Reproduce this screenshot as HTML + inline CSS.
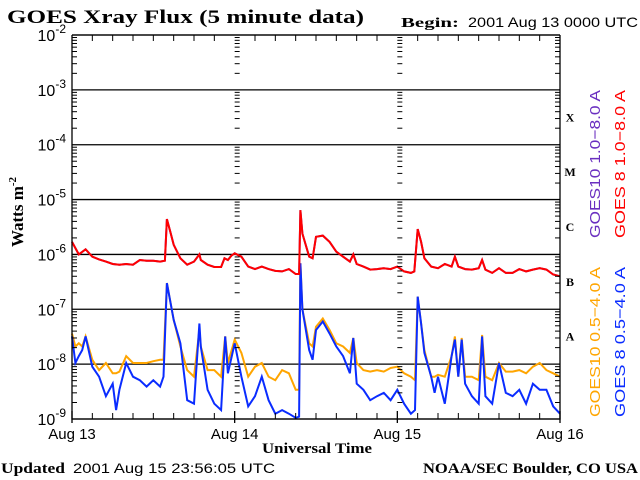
<!DOCTYPE html>
<html><head><meta charset="utf-8"><style>
html,body{margin:0;padding:0;background:#fff;width:640px;height:480px;overflow:hidden}
svg{display:block}
.serif{font-family:"Liberation Serif",serif;font-weight:bold}
.sans{font-family:"Liberation Sans",sans-serif;font-weight:normal}
</style></head><body>
<svg id="chart" width="640" height="480" viewBox="0 0 640 480" xmlns="http://www.w3.org/2000/svg">
<text class="serif" x="7" y="23" font-size="19" textLength="357" lengthAdjust="spacingAndGlyphs">GOES Xray Flux (5 minute data)</text>
<text class="serif" x="401" y="27" font-size="14" textLength="58" lengthAdjust="spacingAndGlyphs">Begin:</text>
<text style="font-family:'Liberation Sans',sans-serif" x="468" y="27" font-size="14" textLength="170" lengthAdjust="spacingAndGlyphs">2001 Aug 13 0000 UTC</text>
<text class="serif" font-size="17" transform="translate(23,212) rotate(-90)" text-anchor="middle">Watts m<tspan dy="-7" font-size="11">-2</tspan></text>
<text class="serif" x="262" y="453" font-size="15" textLength="110" lengthAdjust="spacingAndGlyphs">Universal Time</text>
<text class="serif" x="1" y="473" font-size="15" textLength="64" lengthAdjust="spacingAndGlyphs">Updated</text>
<text style="font-family:'Liberation Sans',sans-serif" x="73" y="473" font-size="14" textLength="202" lengthAdjust="spacingAndGlyphs">2001 Aug 15 23:56:05 UTC</text>
<text class="serif" x="423" y="473" font-size="15" textLength="215" lengthAdjust="spacingAndGlyphs">NOAA/SEC Boulder, CO USA</text>
<g id="grid"></g><g id="series"></g><g id="axes"></g><g id="labels"></g>
<text style="font-family:'Liberation Sans',sans-serif" fill="#6a2fc0" font-size="15" transform="translate(600,164) rotate(-90)" text-anchor="middle" textLength="148" lengthAdjust="spacingAndGlyphs">GOES10 1.0−8.0 A</text>
<text style="font-family:'Liberation Sans',sans-serif" fill="#ff0000" font-size="15" transform="translate(625,164) rotate(-90)" text-anchor="middle" textLength="148" lengthAdjust="spacingAndGlyphs">GOES 8 1.0−8.0 A</text>
<text style="font-family:'Liberation Sans',sans-serif" fill="#ffa500" font-size="15" transform="translate(600,342) rotate(-90)" text-anchor="middle" textLength="150" lengthAdjust="spacingAndGlyphs">GOES10 0.5−4.0 A</text>
<text style="font-family:'Liberation Sans',sans-serif" fill="#0a2cff" font-size="15" transform="translate(625,342) rotate(-90)" text-anchor="middle" textLength="150" lengthAdjust="spacingAndGlyphs">GOES 8 0.5−4.0 A</text>
</svg>
<script>
const dayLabels = ["Aug 13","Aug 14","Aug 15","Aug 16"];
const decadeExps = [-2,-3,-4,-5,-6,-7,-8,-9];
const flareClasses = ["X","M","C","B","A"];
const shortHours = [0,0.5,1,1.5,2,3,4,5,6,6.5,7,8,9,10,11,12,13,13.5,14,15,16,17,18,18.8,19,20,21,22,22.6,23,24,25,26,27,28,29,30,31,32,33,33.5,33.7,34,35,35.5,36,37,38,39,40,41,41.5,42,43,44,45,46,47,48,49,50,50.6,51,51.5,52,53,53.5,54,55,56,56.5,57,57.5,58,59,60,60.5,61,62,63,64,65,66,67,68,69,70,71,72];
const goes8Short = [3.2e-8,1.05e-8,1.4e-8,1.8e-8,3.2e-8,9e-9,5.9e-9,2.6e-9,4.4e-9,1.45e-9,3.4e-9,1.05e-8,5.9e-9,5.1e-9,3.9e-9,5.1e-9,3.9e-9,5.9e-9,3e-7,6.4e-8,2.4e-8,2.2e-9,1.9e-9,5.5e-8,2.1e-8,3.4e-9,1.9e-9,1.45e-9,3.2e-8,6.8e-9,2.4e-8,5.9e-9,1.7e-9,2.6e-9,5.9e-9,2.2e-9,1.25e-9,1.45e-9,1.25e-9,1.05e-9,1.1e-9,6.9e-7,1.0e-7,1.8e-8,1.2e-8,4.2e-8,6.0e-8,3.6e-8,2.1e-8,1.4e-8,6.8e-9,3.0e-8,4.4e-9,3.4e-9,2.2e-9,2.6e-9,3.0e-9,2.2e-9,3.4e-9,1.9e-9,1.25e-9,1.45e-9,1.7e-7,5.5e-8,1.6e-8,5.9e-9,3.0e-9,5.9e-9,1.9e-9,1.4e-8,2.8e-8,5.9e-9,2.8e-8,4.4e-9,2.6e-9,1.9e-9,3.2e-8,2.6e-9,1.9e-9,1.05e-8,3.0e-9,2.6e-9,3.4e-9,1.9e-9,4.4e-9,3.4e-9,3.4e-9,1.7e-9,1.25e-9];
const goes10Short = [3.6e-8,2.1e-8,2.4e-8,2.1e-8,3.2e-8,1.2e-8,7.8e-9,1.05e-8,6.8e-9,6.8e-9,7.3e-9,1.4e-8,1.05e-8,1.05e-8,1.05e-8,1.13e-8,1.2e-8,1.2e-8,3e-7,6.4e-8,2.1e-8,7.8e-9,5.9e-9,4.2e-8,2.1e-8,7.8e-9,7.8e-9,5.9e-9,3.2e-8,1.05e-8,2.8e-8,1.6e-8,5.9e-9,9e-9,1.05e-8,5.9e-9,5.1e-9,7.8e-9,6.8e-9,3.4e-9,3.4e-9,6.9e-7,1.0e-7,2.4e-8,2.1e-8,4.8e-8,6.8e-8,4.2e-8,2.4e-8,2.1e-8,1.6e-8,3.0e-8,1.05e-8,7.8e-9,7.3e-9,7.8e-9,7.3e-9,8.5e-9,9e-9,6.8e-9,5.9e-9,5.1e-9,1.7e-7,5.5e-8,1.8e-8,5.9e-9,5.9e-9,6.4e-9,5.9e-9,1.4e-8,3.2e-8,5.9e-9,3.0e-8,5.9e-9,5.9e-9,5.1e-9,3.4e-8,5.9e-9,5.1e-9,1.05e-8,7.3e-9,7.3e-9,7.8e-9,6.8e-9,9e-9,1.05e-8,7.8e-9,6.8e-9,5.9e-9];
const longHours = [0,1,2,3,4,5,6,7,8,9,10,11,12,13,13.7,14,14.5,15,16,17,18,18.8,19,20,21,22,22.5,23,23.5,24,25,26,27,28,29,30,31,32,33,33.5,33.7,34,35,35.5,36,37,38,39,40,41,41.5,42,43,44,45,46,47,48,49,50,50.5,51,51.5,52,53,54,55,56,56.5,57,58,59,60,60.5,61,62,63,64,65,66,67,68,69,70,71,72];
const goes8Long = [1.69e-6,1.0e-6,1.24e-6,9.1e-7,8.1e-7,7.4e-7,6.7e-7,6.5e-7,6.7e-7,6.5e-7,7.9e-7,7.7e-7,7.7e-7,7.4e-7,7.7e-7,4.4e-6,2.6e-6,1.5e-6,8.5e-7,6.5e-7,7.4e-7,1.0e-6,7.9e-7,6.5e-7,5.9e-7,5.9e-7,8.5e-7,7.9e-7,9.5e-7,1.05e-6,9.1e-7,6.0e-7,5.4e-7,6.0e-7,5.4e-7,5.0e-7,4.9e-7,5.4e-7,4.4e-7,4.4e-7,6.4e-6,2.4e-6,9.1e-7,8.5e-7,2.1e-6,2.2e-6,1.69e-6,1.12e-6,9.1e-7,7.4e-7,1.0e-6,6.7e-7,6.0e-7,5.3e-7,5.4e-7,5.6e-7,5.4e-7,6.0e-7,4.9e-7,4.6e-7,4.9e-7,2.9e-6,1.69e-6,8.5e-7,6.0e-7,5.6e-7,6.7e-7,6.0e-7,9.1e-7,6.0e-7,5.4e-7,5.3e-7,5.6e-7,7.9e-7,5.3e-7,4.6e-7,5.6e-7,4.6e-7,4.6e-7,5.4e-7,4.9e-7,5.3e-7,5.6e-7,5.3e-7,4.3e-7,4.0e-7];

const NS="http://www.w3.org/2000/svg";
const X0=72,X1=560,Y0=35,Y1=419;
const xS=h=>X0+(X1-X0)*h/72;
const yS=v=>Y0+(Y1-Y0)*(-2-Math.log10(v))/7;
function mk(tag,attrs,parent){const e=document.createElementNS(NS,tag);for(const k in attrs)e.setAttribute(k,attrs[k]);parent.appendChild(e);return e;}
const grid=document.getElementById('grid'),axes=document.getElementById('axes'),labels=document.getElementById('labels'),series=document.getElementById('series');
decadeExps.forEach(e=>{const y=yS(Math.pow(10,e));
 const l=mk('line',{x1:X0,x2:X1,y1:y,y2:y,stroke:'#000','stroke-width':1.3},grid);
 
 
 const t=mk('text',{x:66,y:y+6,'font-size':16,'text-anchor':'end','font-family':'Liberation Sans, sans-serif'},labels);
 
 
 t.textContent='10';const s=mk('tspan',{dy:-8,'font-size':12},t);s.textContent=String(e);
});
const bx=[0,24,48,72];
for(let e=-9;e<-2;e++){for(let m=2;m<10;m++){const y=yS(m*Math.pow(10,e));const len=5;
 bx.forEach((h,i)=>{const x=xS(h);const dir=i===3?-1:1;
  const tk=mk('line',{x1:x,x2:x+dir*len,y1:y,y2:y,stroke:'#000','stroke-width':1},axes);
  
  
 });}}
const fr=mk('path',{d:`M${X0},${Y0}V${Y1}H${X1}V${Y0}`,fill:'none',stroke:'#000','stroke-width':1.3},axes);


const topl=mk('line',{x1:X0,x2:X1,y1:Y0,y2:Y0,stroke:'#000','stroke-width':1.3},axes);


for(let h=0;h<=72;h+=3){const x=xS(h);if(h%24===0)continue;const len=6;
 const b=mk('line',{x1:x,x2:x,y1:Y1,y2:Y1-len,stroke:'#000','stroke-width':1},axes);
 
 
 const t=mk('line',{x1:x,x2:x,y1:Y0,y2:Y0+len,stroke:'#000','stroke-width':1},axes);
 
 
}
bx.forEach((h,i)=>{const x=xS(h);
 const d=mk('line',{x1:x,x2:x,y1:Y1-8,y2:Y1+4,stroke:'#000','stroke-width':1.3},axes);
 
 
 const t=mk('text',{x:x,y:439,'font-size':15,'text-anchor':'middle','font-family':'Liberation Sans, sans-serif'},labels);
 
 
 t.textContent=dayLabels[i];
});
flareClasses.forEach((c,i)=>{const y=(yS(Math.pow(10,-3-i))+yS(Math.pow(10,-4-i)))/2+4;
 const t=mk('text',{x:570,y:y,'font-size':12,'text-anchor':'middle','font-family':'Liberation Serif, serif','font-weight':'bold'},labels);
 
 
 t.textContent=c;
});
function draw(hours,vals,color,name){let d='';
 for(let i=0;i<hours.length;i++){const x=xS(hours[i]),y=yS(vals[i]);d+=(i?'L':'M')+x.toFixed(1)+','+y.toFixed(1);}
 const p=mk('path',{d:d,fill:'none',stroke:color,'stroke-width':2,'stroke-linejoin':'miter'},series);
 
 
}
draw(shortHours,goes10Short,'#ffa500','goes10-short-series');
draw(shortHours,goes8Short,'#0a2cff','goes8-short-series');
draw(longHours,goes8Long,'#6a2fc0','goes10-long-series');
draw(longHours,goes8Long,'#ff0000','goes8-long-series');
</script>
</body></html>
